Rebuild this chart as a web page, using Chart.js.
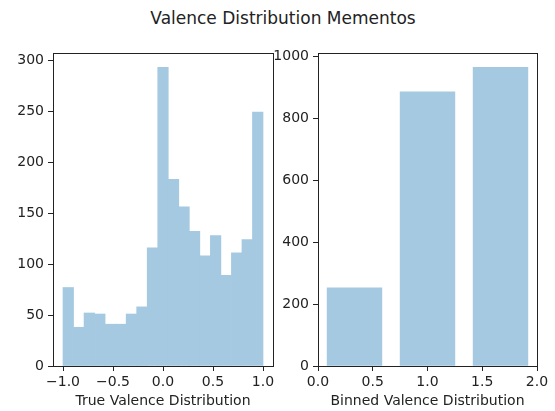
<!DOCTYPE html>
<html lang="en">
<head>
    <meta charset="UTF-8">
    <title>Valence Distribution Mementos</title>
    <script src="https://cdn.jsdelivr.net/npm/chart.js"></script>
    <style>
        body {
            margin: 0;
            background-color: #fff;
            font-family: "DejaVu Sans", sans-serif;
        }
        #wrap {
            position: relative;
            width: 555px;
            height: 411px;
            overflow: hidden;
        }
        #wrap canvas {
            position: absolute;
            left: 0;
            top: 0;
        }
        #title {
            position: absolute;
            left: 283px;
            top: 8px;
            transform: translateX(-50%);
            font-size: 17px;
            line-height: 20px;
            color: #222;
            white-space: nowrap;
        }
    </style>
</head>
<body>
    <div id="wrap">
        <div id="title">Valence Distribution Mementos</div>
        <canvas id="trueChart" width="555" height="411"></canvas>
        <canvas id="binnedChart" width="555" height="411"></canvas>
    </div>

    <script>
        // left: histogram of valence, 19 bins between -1 and 1
        const trueCounts = [77, 38, 52, 51, 41, 41, 51, 58, 116, 293, 183, 156, 132, 108, 128, 89, 111, 124, 249];
        const trueRange = [-1, 1];
        const trueXTicks = [-1.0, -0.5, 0.0, 0.5, 1.0];
        const trueYTicks = [0, 50, 100, 150, 200, 250, 300];

        // right: three valence bins
        const binnedCenters = [1 / 3, 1, 5 / 3];
        const binnedCounts = [252, 885, 964];
        const binnedXTicks = [0.0, 0.5, 1.0, 1.5, 2.0];
        const binnedYTicks = [0, 200, 400, 600, 800, 1000];

        const binWidth = (trueRange[1] - trueRange[0]) / trueCounts.length;
        const trueCenters = trueCounts.map((_, i) => trueRange[0] + (i + 0.5) * binWidth);

        // tab:blue at alpha 0.4 over white, opaque so touching bars don't show seams
        const barColor = 'rgb(165, 201, 225)';
        const inkColor = '#222';
        const tickFont = { family: 'DejaVu Sans', size: 14 };

        // matplotlib style box around the axes
        const framePlugin = {
            id: 'frame',
            afterDraw(chart) {
                const a = chart.chartArea;
                const c = chart.ctx;
                c.save();
                c.strokeStyle = inkColor;
                c.lineWidth = 1;
                c.strokeRect(Math.round(a.left) + 0.5, Math.round(a.top) + 0.5,
                    Math.round(a.right - a.left), Math.round(a.bottom - a.top));
                c.restore();
            }
        };

        const fmt = v => v.toFixed(1).replace('-', '\u2212');

        function makeChart(id, centers, counts, xTicks, yTicks, xMin, xMax, yMax, xTitle, pad, yWidth) {
            return new Chart(document.getElementById(id), {
                type: 'bar',
                data: {
                    datasets: [{
                        data: centers.map((x, i) => ({ x: x, y: counts[i] })),
                        backgroundColor: barColor,
                        borderWidth: 0,
                        categoryPercentage: 1,
                        barPercentage: 1
                    }]
                },
                options: {
                    responsive: false,
                    animation: false,
                    layout: { padding: pad },
                    plugins: {
                        legend: { display: false },
                        tooltip: { enabled: false }
                    },
                    scales: {
                        x: {
                            type: 'linear',
                            min: xMin,
                            max: xMax,
                            offset: false,
                            afterBuildTicks: s => { s.ticks = xTicks.map(v => ({ value: v })); },
                            afterFit: s => { s.height = 45; },
                            ticks: {
                                font: tickFont,
                                color: inkColor,
                                padding: 3,
                                maxRotation: 0,
                                autoSkip: false,
                                callback: v => fmt(v)
                            },
                            grid: {
                                display: true,
                                offset: false,
                                drawOnChartArea: false,
                                drawTicks: true,
                                tickLength: 5,
                                color: inkColor
                            },
                            border: { display: true, color: inkColor },
                            title: {
                                display: true,
                                text: xTitle,
                                font: tickFont,
                                color: inkColor,
                                padding: { top: 0, bottom: 1 }
                            }
                        },
                        y: {
                            min: 0,
                            max: yMax,
                            afterBuildTicks: s => { s.ticks = yTicks.map(v => ({ value: v })); },
                            afterFit: s => { s.width = yWidth; },
                            ticks: {
                                font: tickFont,
                                color: inkColor,
                                padding: 4,
                                autoSkip: false,
                                callback: v => String(v)
                            },
                            grid: {
                                display: true,
                                offset: false,
                                drawOnChartArea: false,
                                drawTicks: true,
                                tickLength: 5,
                                color: inkColor
                            },
                            border: { display: true, color: inkColor }
                        }
                    }
                },
                plugins: [framePlugin]
            });
        }

        makeChart('trueChart', trueCenters, trueCounts, trueXTicks, trueYTicks,
            -1.1, 1.1, 307, 'True Valence Distribution',
            { left: 0, top: 53, right: 282, bottom: 0 }, 53);

        makeChart('binnedChart', binnedCenters, binnedCounts, binnedXTicks, binnedYTicks,
            0, 2, 1010, 'Binned Valence Distribution',
            { left: 268, top: 53, right: 18, bottom: 0 }, 50);
    </script>
</body>
</html>
